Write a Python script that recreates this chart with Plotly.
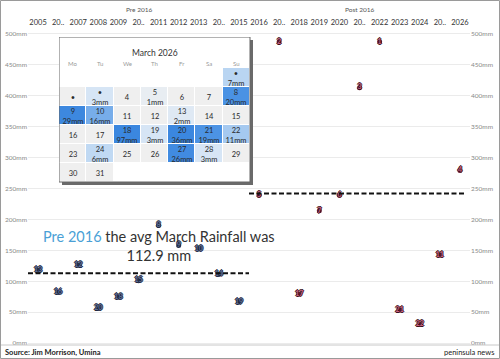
import plotly.graph_objects as go

# ---------------- data ----------------
pre_years = list(range(2005, 2016))
pre_rain = [118, 82, 126, 56, 74, 101, 190, 158, 152, 111, 66]
pre_rank = [13, 16, 12, 20, 18, 15, 8, 9, 10, 14, 19]
pre_ticktext = ["2005", "20..", "2007", "2008", "2009", "20..", "2011", "2012", "2013", "20..", "2015"]

post_years = list(range(2016, 2027))
post_rain = [239, 487, 79, 214, 239, 413, 487, 53, 30, 142, 279]
post_rank = [5, 2, 17, 7, 6, 3, 1, 21, 22, 11, 4]
post_ticktext = ["2016", "20..", "2018", "2019", "2020", "20..", "2022", "2023", "2024", "20..", "2026"]

pre_avg = 112.9
post_avg = 242.0

y_ticks = [0, 50, 100, 150, 200, 250, 300, 350, 400, 450, 500]

# March 2026 daily rainfall (mm), day 1..31
march_days = list(range(1, 32))
march_rain = [7, 0, 3, 0, 1, 0, 0, 20, 29, 16, 0, 0, 2, 0, 0,
              0, 0, 97, 3, 36, 19, 11, 0, 6, 0, 0, 26, 3, 0, 0, 0]
march_day_text = ["•", "•", "•"] + [str(d) for d in range(4, 32)]
weekdays = ["Mo", "Tu", "We", "Th", "Fr", "Sa", "Su"]
first_weekday = 6  # 1 March 2026 is a Sunday (Monday = 0)

# ---------------- layout geometry ----------------
W, H = 500, 359
ML, MR, MT, MB = 28, 30, 27, 14
PW = W - ML - MR
PH = H - MT - MB


def px(xp):
    return (xp - ML) / PW


def py(yp):
    return (H - MB - yp) / PH


FONT = "Lato"

fig = go.Figure()

# pre points
fig.add_trace(go.Scatter(
    x=pre_years, y=pre_rain, mode="markers+text", text=[str(r) for r in pre_rank],
    textposition="middle center",
    marker=dict(size=5, color="#2b3756", line=dict(width=0)),
    textfont=dict(family=FONT, size=7, color="#5d6d92", weight="bold",
                  shadow="-1px 0 #1e2740, 1px 0 #1e2740, 0 1px #1e2740, 0 -1px #1e2740"),
    xaxis="x", yaxis="y", showlegend=False, hoverinfo="skip"))
# post points
fig.add_trace(go.Scatter(
    x=post_years, y=post_rain, mode="markers+text", text=[str(r) for r in post_rank],
    textposition="middle center",
    marker=dict(size=5, color="#6e1a2e", line=dict(width=0)),
    textfont=dict(family=FONT, size=7, color="#c9637c", weight="bold",
                  shadow="-1px 0 #3a1020, 1px 0 #3a1020, 0 1px #3a1020, 0 -1px #3a1020"),
    xaxis="x2", yaxis="y2", showlegend=False, hoverinfo="skip"))

# average lines
fig.add_trace(go.Scatter(
    x=[2004.5, 2015.5], y=[pre_avg, pre_avg], mode="lines",
    line=dict(color="#111111", width=2, dash="5px,2.5px"),
    xaxis="x", yaxis="y", showlegend=False, hoverinfo="skip"))
fig.add_trace(go.Scatter(
    x=[2015.5, 2026.3], y=[post_avg, post_avg], mode="lines",
    line=dict(color="#111111", width=2, dash="5px,2.5px"),
    xaxis="x2", yaxis="y2", showlegend=False, hoverinfo="skip"))

# ---------------- calendar inset ----------------
n_rows = 6
z = [[None] * 7 for _ in range(n_rows)]
cell_text = [[""] * 7 for _ in range(n_rows)]
for d, r, t in zip(march_days, march_rain, march_day_text):
    idx = first_weekday + d - 1
    row, col = idx // 7, idx % 7
    z[row][col] = r
    cell_text[row][col] = t + (f"<br>{r}mm" if r > 0 else "")

cal_x0, cal_x1 = 59, 250
cal_y0, cal_y1 = 37, 182
cells_top = 68
row_h = (cal_y1 - cells_top) / n_rows
col_w = (cal_x1 - cal_x0) / 7
sh = 3  # shadow offset px
top_val = -0.5 - (cells_top - cal_y0) / row_h
x_rng = [-0.5, 6.5 + sh / col_w]
y_rng = [5.5 + sh / row_h, top_val]

# shadow
fig.add_trace(go.Heatmap(
    z=[[1]], x=[-0.5 + sh / col_w, 6.5 + sh / col_w], y=[top_val + sh / row_h, 5.5 + sh / row_h],
    colorscale=[[0, "#6a6a6a"], [1, "#6a6a6a"]], showscale=False, hoverinfo="skip",
    xaxis="x3", yaxis="y3"))
# white box
fig.add_trace(go.Heatmap(
    z=[[1]], x=[-0.5, 6.5], y=[top_val, 5.5],
    colorscale=[[0, "#ffffff"], [1, "#ffffff"]], showscale=False, hoverinfo="skip",
    xaxis="x3", yaxis="y3"))
# cells
fig.add_trace(go.Heatmap(
    z=z, x=list(range(7)), y=list(range(n_rows)), text=cell_text, texttemplate="%{text}",
    textfont=dict(family=FONT, size=7.5, color="#2a2a2a"),
    zmin=0, zmax=30,
    colorscale=[[0, "#efefef"], [0.04, "#e6ecf3"], [0.1, "#d6e5f5"], [0.23, "#bad5f2"],
                [0.37, "#a4c9f0"], [0.53, "#78aeea"], [0.63, "#4c93e4"], [1, "#3b87df"]],
    xgap=1, ygap=1, showscale=False, hoverinfo="skip",
    xaxis="x3", yaxis="y3"))

annotations = []
annotations.append(dict(text="March 2026", x=3, y=-0.5 - (cells_top - 53) / row_h, xref="x3", yref="y3",
                        xanchor="center", yanchor="middle",
                        showarrow=False, font=dict(family=FONT, size=8.5, color="#333333")))
for i, wd in enumerate(weekdays):
    annotations.append(dict(text=wd, x=i, y=-0.5 - (cells_top - 63) / row_h, xref="x3", yref="y3",
                            xanchor="center", yanchor="middle",
                            showarrow=False, font=dict(family=FONT, size=6, color="#999999")))

# headers
annotations.append(dict(text="Pre 2016", x=0.25, y=py(9), xref="paper", yref="paper",
                        xanchor="center", yanchor="middle",
                        showarrow=False, font=dict(family=FONT, size=6.5, color="#555555")))
annotations.append(dict(text="Post 2016", x=0.75, y=py(9), xref="paper", yref="paper",
                        xanchor="center", yanchor="middle",
                        showarrow=False, font=dict(family=FONT, size=6.5, color="#555555")))

# main text
annotations.append(dict(
    text="<span style='color:#4a9fd6'>Pre 2016</span> the avg March Rainfall was<br>112.9 mm",
    x=px(159), y=py(246), xref="paper", yref="paper", showarrow=False, align="center",
    xanchor="center", yanchor="middle",
    font=dict(family=FONT, size=14.5, color="#333333")))

# footer
annotations.append(dict(text="Source: Jim Morrison, Umina", x=px(3), y=py(352), xref="paper", yref="paper",
                        xanchor="left", yanchor="middle", showarrow=False,
                        font=dict(family=FONT, size=7.5, color="#222222", weight="bold")))
annotations.append(dict(text="peninsula news", x=px(496), y=py(352), xref="paper", yref="paper",
                        xanchor="right", yanchor="middle", showarrow=False,
                        font=dict(family=FONT, size=7.5, color="#222222")))

shapes = [
    dict(type="rect", xref="x3", yref="y3", x0=-0.5, x1=6.5, y0=top_val, y1=5.5,
         line=dict(color="#666666", width=1), layer="above"),
    dict(type="line", xref="paper", yref="paper", x0=px(0), x1=px(500), y0=0, y1=0,
         line=dict(color="#c8c8c8", width=1)),
    dict(type="rect", xref="paper", yref="paper", x0=px(0.5), x1=px(499.5), y0=py(358.5), y1=py(0.5),
         line=dict(color="#9a9a9a", width=1)),
]

axis_font = dict(family=FONT, size=7.5, color="#333333")
ytick_font = dict(family=FONT, size=6.5, color="#888888")
y_text = [f"{v}mm" for v in y_ticks]

fig.update_layout(
    width=W, height=H, margin=dict(l=ML, r=MR, t=MT, b=MB, autoexpand=False),
    paper_bgcolor="white", plot_bgcolor="white",
    font=dict(family=FONT),
    xaxis=dict(domain=[0, 0.5], range=[2004.5, 2015.5], side="top", anchor="y",
               tickvals=pre_years, ticktext=pre_ticktext, tickfont=axis_font, tickangle=0,
               showgrid=False, zeroline=False, ticks="", showline=False, automargin=False),
    xaxis2=dict(domain=[0.5, 1], range=[2015.5, 2026.5], side="top", anchor="y2",
                tickvals=post_years, ticktext=post_ticktext, tickfont=axis_font, tickangle=0,
                showgrid=False, zeroline=False, ticks="", showline=False, automargin=False),
    yaxis=dict(domain=[0, 1], range=[-3, 511], anchor="x", tickvals=y_ticks, ticktext=y_text,
               tickfont=ytick_font, gridcolor="#ebebeb", gridwidth=1, zeroline=False, ticks="",
               automargin=False, ticklabeloverflow="allow"),
    yaxis2=dict(domain=[0, 1], range=[-3, 511], anchor="x2", side="right", tickvals=y_ticks,
                ticktext=y_text, tickfont=ytick_font, gridcolor="#ebebeb", gridwidth=1,
                zeroline=False, ticks="", automargin=False, ticklabeloverflow="allow"),
    xaxis3=dict(domain=[px(cal_x0), px(cal_x1 + sh)], range=x_rng, anchor="y3", visible=False,
                fixedrange=True),
    yaxis3=dict(domain=[py(cal_y1 + sh), py(cal_y0)], range=y_rng, anchor="x3", visible=False,
                fixedrange=True),
    annotations=annotations, shapes=shapes,
)

fig.write_html("out.html", config={"displayModeBar": False},
               post_script="document.body.style.margin='0px';document.body.style.overflow='hidden';")
